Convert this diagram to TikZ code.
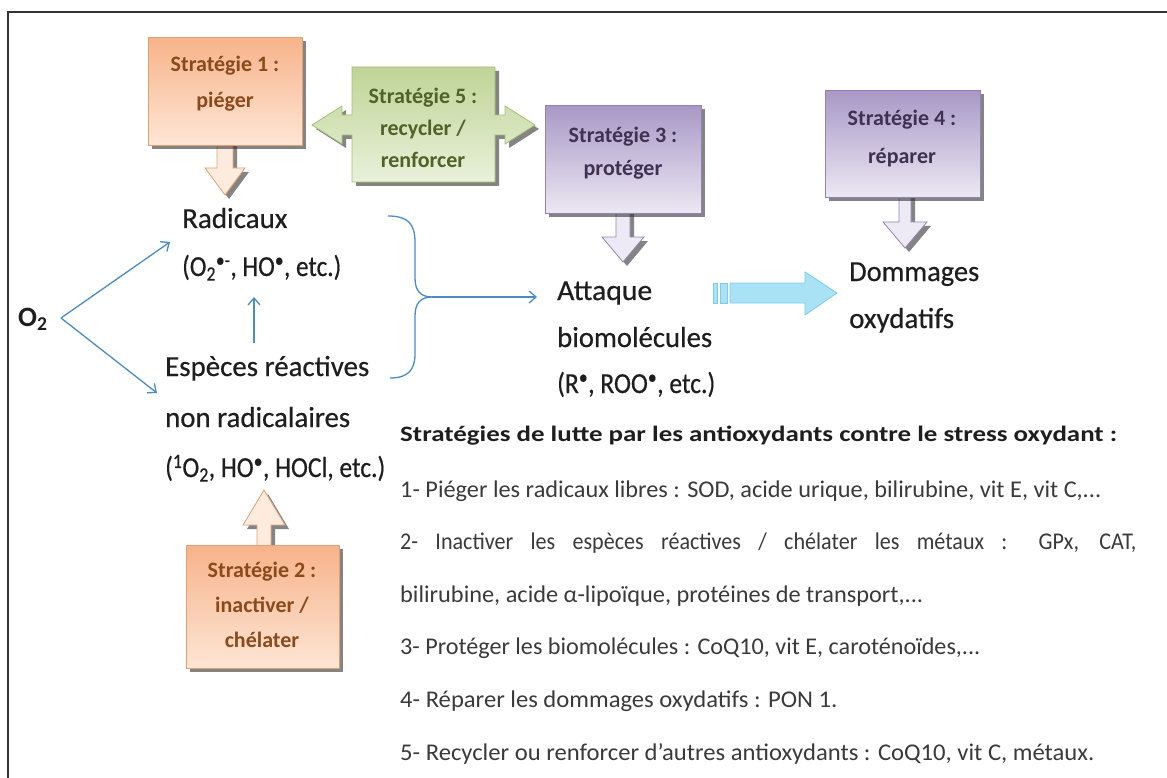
\documentclass[tikz,border=0pt]{standalone}
\usepackage{fontspec}
\setmainfont{Carlito}
\newfontfamily\labfont[FakeBold=0.5]{Carlito}
\usepackage{graphicx}
\usetikzlibrary{arrows.meta,shadows}
\definecolor{orTop}{HTML}{F7B38A}
\definecolor{orBot}{HTML}{FDE6D5}
\definecolor{orLine}{HTML}{E3A070}
\definecolor{orText}{HTML}{8A4A1C}
\definecolor{orArr}{HTML}{FDEBDD}
\definecolor{grTop}{HTML}{BFD497}
\definecolor{grBot}{HTML}{E9F1DA}
\definecolor{grLine}{HTML}{A3BF72}
\definecolor{grText}{HTML}{4F6228}
\definecolor{puTop}{HTML}{A898C6}
\definecolor{puBot}{HTML}{ECE8F3}
\definecolor{puLine}{HTML}{9482B4}
\definecolor{puText}{HTML}{3F3151}
\definecolor{puArr}{HTML}{EEEAF5}
\definecolor{arrBlue}{HTML}{4A8BC9}
\definecolor{cyFill}{HTML}{A9E2F4}
\definecolor{cyLine}{HTML}{7ACDEA}
\definecolor{txt}{HTML}{1E1E1E}
\definecolor{listc}{HTML}{3A3A3A}
\newcommand\blockdown[6]{({#1-#5},#2) -- ({#1-#5},#3) -- ({#1-#6},#3) -- (#1,#4) -- ({#1+#6},#3) -- ({#1+#5},#3) -- ({#1+#5},#2) -- cycle}
\tikzset{
  frameline/.style={draw=black!80, line width=1.8pt},
  shad/.style={drop shadow={shadow xshift=4pt, shadow yshift=-4pt, fill=black!80, opacity=0.6}},
  stratbox/.style={shad, draw=#1Line, line width=0.8pt, top color=#1Top, bottom color=#1Bot, inner sep=0pt, anchor=north west},
  stext/.style={font=\bfseries\fontsize{22}{#1}\selectfont, align=center, inner sep=0pt},
  blockarr/.style={shad, draw=#1Line, line width=0.8pt, fill=#1Arr},
  lab/.style={font=\labfont\fontsize{29}{34}\selectfont, text=txt, inner sep=0pt, anchor=base west},
  listtxt/.style={font=\fontsize{24}{28}\selectfont, text=listc, inner sep=0pt, anchor=base west},
  thinarr/.style={draw=arrBlue, line width=1.3pt, -{Straight Barb[length=7pt,width=12pt]}},
  thinline/.style={draw=arrBlue, line width=1.3pt},
}
\begin{document}
\begin{tikzpicture}[x=1pt,y=-1pt]
\useasboundingbox (0,0) rectangle (1167,778);
\fill[white] (0,0) rectangle (1167,778);
\draw[frameline] (8,778) -- (8,12) -- (1167,12);

% block arrows (drawn below the boxes)
\path[blockarr=or] \blockdown{225}{140}{168}{195}{8}{20};
\path[blockarr=pu] \blockdown{623}{208}{237}{262}{7}{21};
\path[blockarr=pu] \blockdown{905}{192}{222}{248}{6}{22};
\path[blockarr=or] \blockdown{264}{550}{525}{490}{7}{21};

% strategy boxes
\node[stratbox=or, minimum width=154pt, minimum height=108pt] (s1box) at (148,37) {};
\node[stext=36, text=orText] (s1) at (225,84) {Stratégie 1 :\\piéger};

\path[shad, draw=grLine, line width=0.8pt, top color=grTop, bottom color=grBot]
 (352,67) -- (495,67) -- (495,115) -- (505,115) -- (505,106) -- (535,125) -- (505,144) -- (505,135) -- (495,135) -- (495,182) -- (352,182) -- (352,135) -- (342,135) -- (342,144) -- (312,125) -- (342,106) -- (342,115) -- (352,115) -- cycle;
\node[stext=32, text=grText] (s5) at (423,128) {Stratégie 5 :\\recycler /\\renforcer};

\node[stratbox=pu, minimum width=156pt, minimum height=108pt] (s3box) at (545,105) {};
\node[stext=33, text=puText] (s3) at (623,153) {Stratégie 3 :\\protéger};

\node[stratbox=pu, minimum width=155pt, minimum height=107pt] (s4box) at (825,90) {};
\node[stext=38, text=puText] (s4) at (902,139) {Stratégie 4 :\\réparer};

\node[stratbox=or, minimum width=153pt, minimum height=123pt] (s2box) at (186,545) {};
\node[stext=35, text=orText] (s2) at (262,605) {Stratégie 2 :\\inactiver /\\chélater};

% labels
\node[font=\bfseries\fontsize{28}{32}\selectfont, text=txt, inner sep=0pt, anchor=base west] (o2) at (18,326) {O\textsubscript{2}};
\node[lab] (rad) at (182,228) {Radicaux};
\node[lab] (radex) at (182,276) {\resizebox{159pt}{\height}{(O\textsubscript{2}\textsuperscript{•-}, HO\textsuperscript{•}, etc.)}};
\node[lab] (esp) at (165,376) {\resizebox{204pt}{\height}{Espèces réactives}};
\node[lab] (nonrad) at (165,427) {\resizebox{185pt}{\height}{non radicalaires}};
\node[lab] (espex) at (165,477) {\resizebox{220pt}{\height}{(\textsuperscript{1}O\textsubscript{2}, HO\textsuperscript{•}, HOCl, etc.)}};
\node[lab] (att) at (557,300) {\resizebox{95pt}{\height}{Attaque}};
\node[lab] (bio) at (557,347) {\resizebox{155pt}{\height}{biomolécules}};
\node[lab] (attex) at (557,393) {\resizebox{158pt}{\height}{(R\textsuperscript{•}, ROO\textsuperscript{•}, etc.)}};
\node[lab] (dom) at (849,281) {\resizebox{130pt}{\height}{Dommages}};
\node[lab] (oxy) at (849,328) {oxydatifs};

% thin blue connectors
\coordinate (o2out) at (61,318);
\coordinate (radin) at (170,242);
\coordinate (espin) at (157,393);
\coordinate (espup) at (254,343);
\coordinate (radlow) at (254,297);
\coordinate (bt) at (388,216);
\coordinate (bb) at (390,378);
\coordinate (bm) at (432,297);
\coordinate (attin) at (537,297);
\draw[thinarr] (o2out) -- (radin);
\draw[thinarr] (o2out) -- (espin);
\draw[thinarr] (espup) -- (radlow);
\draw[thinline] (bt) .. controls (408,216) and (415,224) .. (415,242) -- (415,278) .. controls (415,290) and (420,297) .. (bm);
\draw[thinline] (bb) .. controls (408,378) and (415,370) .. (415,354) -- (415,316) .. controls (415,304) and (420,297) .. (bm);
\draw[thinarr] (bm) -- (attin);

% cyan striped arrow
\path[draw=cyLine, fill=cyFill, line width=0.8pt] (713,283) rectangle (717,303);
\path[draw=cyLine, fill=cyFill, line width=0.8pt] (720,283) rectangle (727,303);
\path[draw=cyLine, fill=cyFill, line width=0.8pt] (730,283) -- (805,283) -- (805,272) -- (837,293) -- (805,315) -- (805,303) -- (730,303) -- cycle;

% list
\node[listtxt, font=\bfseries\fontsize{22}{26}\selectfont, text=txt] (head) at (400,441) {\resizebox{717pt}{\height}{Stratégies de lutte par les antioxydants contre le stress oxydant :}};
\node[listtxt] (l1) at (400,497) {\resizebox{701pt}{\height}{1- Piéger les radicaux libres : SOD, acide urique, bilirubine, vit E, vit C,...}};
\node[listtxt] (l2) at (400,549) {\resizebox{736pt}{\height}{\makebox[800pt][s]{2- Inactiver les espèces réactives / chélater les métaux : GPx, CAT,}}};
\node[listtxt] (l2b) at (400,602) {\resizebox{523pt}{\height}{bilirubine, acide α-lipoïque, protéines de transport,...}};
\node[listtxt] (l3) at (400,654) {\resizebox{580pt}{\height}{3- Protéger les biomolécules : CoQ10, vit E, caroténoïdes,...}};
\node[listtxt] (l4) at (400,707) {\resizebox{437pt}{\height}{4- Réparer les dommages oxydatifs : PON 1.}};
\node[listtxt] (l5) at (400,760) {\resizebox{694pt}{\height}{5- Recycler ou renforcer d'autres antioxydants : CoQ10, vit C, métaux.}};
\end{tikzpicture}
\end{document}
